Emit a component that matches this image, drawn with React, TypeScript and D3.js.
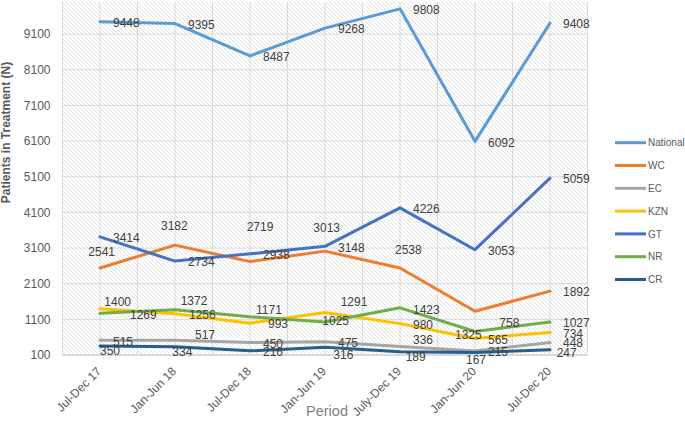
import React from "react";
import * as d3 from "d3";

const CATEGORIES = ["Jul-Dec 17", "Jan-Jun 18", "Jul-Dec 18", "Jan-Jun 19", "July-Dec 19", "Jan-Jun 20", "Jul-Dec 20"];
const SERIES_NAMES = ["National", "WC", "EC", "KZN", "GT", "NR", "CR"];
const NATIONAL = [9448, 9395, 8487, 9268, 9808, 6092, 9408];
const WC = [2541, 3182, 2719, 3013, 2538, 1325, 1892];
const EC = [515, 517, 450, 475, 336, 215, 448];
const KZN = [1400, 1256, 993, 1291, 980, 565, 734];
const GT = [3414, 2734, 2938, 3148, 4226, 3053, 5059];
const NR = [1269, 1372, 1171, 1025, 1423, 758, 1027];
const CR = [350, 334, 216, 316, 189, 167, 247];
const Y_TICKS = [100, 1100, 2100, 3100, 4100, 5100, 6100, 7100, 8100, 9100];

const COLORS = ["#5b9bd5", "#ed7d31", "#a5a5a5", "#ffc000", "#4472c4", "#70ad47", "#255e91"];

// label offsets (style): [dx of text left edge, dy of text centre] relative to point
const R: [number, number] = [13, 1];
const LABEL_OFFSETS: [number, number][][] = [
  [R, R, R, R, R, R, R],
  [[-11.7, -16.3], [-14, -19], [-3.3, -35], [-11.7, -23.8], [-5, -18.8], [-20, 23.7], R],
  [[13, 1.5], [20, -5], R, R, [13, -7.3], R, [13, 0]],
  [[4.3, -6.9], [14, 1], [18, 1], [15.7, -10.8], R, [13, 1.5], R],
  [R, R, R, R, R, R, R],
  [[30, 1], [5.7, -8.6], [6, -6.8], [-2.7, -1], [13, 1.5], [24.3, -9.2], R],
  [[0, 5], [-2.7, 5], R, [8.3, 7], [5.7, 5], [-9, 6.7], [6.7, 3]],
];

const W = 685;
const H = 422;
const PLOT = { left: 62.5, right: 587.5, top: 2, bottom: 355 };

export default function App() {
  const seriesValues = [NATIONAL, WC, EC, KZN, GT, NR, CR];
  const x = d3.scaleBand<string>().domain(CATEGORIES).range([PLOT.left, PLOT.right]).padding(0);
  const cx = (c: string) => (x(c) as number) + x.bandwidth() / 2;
  const y = d3.scaleLinear().domain([100, 10000]).range([PLOT.bottom, PLOT.top]);
  const line = d3
    .line<number>()
    .x((_, i) => cx(CATEGORIES[i]))
    .y((d) => y(d));

  const vGrid: number[] = [];
  CATEGORIES.forEach((c) => {
    vGrid.push(x(c) as number);
    vGrid.push(cx(c));
  });
  vGrid.push(PLOT.right);

  const font = "'Liberation Sans', Arial, sans-serif";

  return (
    <svg width={W} height={H} style={{ position: "absolute", left: 0, top: 0, background: "#fff" }} fontFamily={font}>
      <defs>
        <pattern id="hatch" patternUnits="userSpaceOnUse" width={4} height={4}>
          <path d="M-1,-1 L5,5 M3,-1 L5,1 M-1,3 L1,5" stroke="#dcdcdc" strokeWidth={0.8} />
        </pattern>
      </defs>
      <rect x={PLOT.left} y={PLOT.top} width={PLOT.right - PLOT.left} height={PLOT.bottom - PLOT.top} fill="url(#hatch)" />
      {Y_TICKS.map((t) => (
        <line key={"h" + t} x1={PLOT.left} x2={PLOT.right} y1={y(t)} y2={y(t)} stroke="#d9d9d9" strokeWidth={1} />
      ))}
      {vGrid.map((v, i) => (
        <line key={"v" + i} x1={v} x2={v} y1={PLOT.top} y2={PLOT.bottom} stroke="#d9d9d9" strokeWidth={1} />
      ))}
      <line x1={PLOT.left} x2={PLOT.right} y1={y(100)} y2={y(100)} stroke="#d9d9d9" strokeWidth={2} />

      {Y_TICKS.map((t) => (
        <text key={"yt" + t} x={PLOT.left - 12} y={y(t)} dy="0.36em" textAnchor="end" fontSize={12} fill="#595959">
          {t}
        </text>
      ))}

      {CATEGORIES.map((c) => (
        <text
          key={"xt" + c}
          transform={`translate(${cx(c) + 2},${372}) rotate(-45)`}
          textAnchor="end"
          fontSize={12}
          fill="#595959"
        >
          {c}
        </text>
      ))}

      <text x={327} y={416} textAnchor="middle" fontSize={14.5} fill="#7f7f7f">
        Period
      </text>
      <text transform={`translate(10,132.5) rotate(-90)`} textAnchor="middle" fontSize={12} fontWeight="bold" fill="#595959">
        Patients in Treatment (N)
      </text>

      {seriesValues.map((vals, si) => (
        <path
          key={"l" + si}
          d={line(vals) || ""}
          fill="none"
          stroke={COLORS[si]}
          strokeWidth={3}
          strokeLinejoin="round"
          strokeLinecap="round"
        />
      ))}

      {seriesValues.map((vals, si) =>
        vals.map((v, i) => {
          const [dx, dy] = LABEL_OFFSETS[si][i];
          return (
            <text
              key={"lb" + si + "-" + i}
              x={cx(CATEGORIES[i]) + dx}
              y={y(v) + dy}
              dy="0.36em"
              fontSize={12}
              fill="#404040"
            >
              {v}
            </text>
          );
        })
      )}

      {SERIES_NAMES.map((n, i) => {
        const ly = 142.7 + i * 22.8;
        return (
          <g key={"lg" + n}>
            <line x1={615} x2={646} y1={ly} y2={ly} stroke={COLORS[i]} strokeWidth={3} />
            <text x={648} y={ly} dy="0.36em" fontSize={10} fill="#595959">
              {n}
            </text>
          </g>
        );
      })}
    </svg>
  );
}
